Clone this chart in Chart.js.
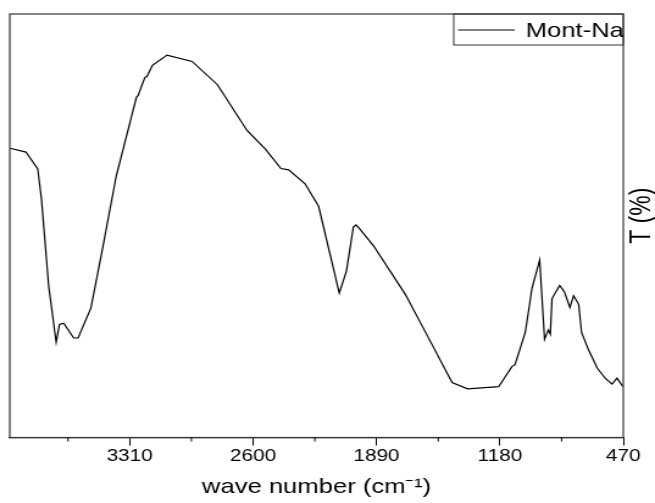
<!DOCTYPE html>
<html>
<head>
<meta charset="utf-8">
<script src="https://cdn.jsdelivr.net/npm/chart.js@4"></script>
<style>
  html, body { margin: 0; padding: 0; background: #fff; overflow: hidden; }
  /* the reference is stretched sideways, so the chart is drawn narrow and scaled */
  #wrap { width: 537px; height: 503px; transform: scaleX(1.2197); transform-origin: 0 0; }
</style>
</head>
<body>
<div id="wrap"><canvas id="ftir"></canvas></div>
<script>
// FTIR spectrum, Mont-Na

const WAVENUMBER = [3998, 3907, 3839, 3818, 3776, 3733, 3714, 3690, 3632, 3607,
  3533, 3469, 3387, 3271, 3262, 3223, 3210, 3179, 3095, 2951,
  2805, 2635, 2529, 2440, 2395, 2301, 2223, 2104, 2063, 2023,
  2008, 1985, 1906, 1724, 1580, 1455, 1366, 1187, 1110, 1093,
  1034, 995, 951, 923, 901, 890, 880, 836, 809, 777,
  756, 727, 710, 670, 620, 574, 535, 506, 472];
const TRANSMITTANCE = [68.3, 67.4, 63.4, 56.5, 35.7, 22.5, 26.7, 27.0, 23.5, 23.5,
  30.6, 44.0, 61.8, 80.4, 80.7, 85.0, 85.3, 87.9, 90.3, 88.8,
  83.3, 72.5, 68.1, 63.5, 63.2, 59.9, 54.6, 34.1, 39.3, 49.7,
  50.2, 49.2, 45.2, 33.8, 22.7, 13.0, 11.5, 12.0, 16.8, 17.2,
  24.8, 35.3, 41.9, 23.2, 25.4, 24.4, 32.8, 35.9, 34.4, 30.7,
  33.5, 31.5, 24.8, 20.7, 16.4, 14.0, 12.6, 14.0, 12.0];

const SERIES_LABEL = 'Mont-Na';
const MAJOR_TICKS = [3310, 2600, 1890, 1180, 470];
const MINOR_TICKS = [3665, 2955, 2245, 1535, 825];
const X_TITLE = 'wave number (cm\u207B\u00B9)';
const Y_TITLE = 'T (%)';

const FONT = "'Liberation Sans', Arial, sans-serif";

// ─────────────────────────────────────────────
// frame, minor ticks, legend box, y title
// ─────────────────────────────────────────────
const decorPlugin = {
  id: 'decor',
  afterDraw(chart) {
    const { ctx, chartArea: a, scales } = chart;
    ctx.save();

    ctx.strokeStyle = '#333';
    ctx.lineWidth = 1.2;
    ctx.strokeRect(a.left, a.top, a.right - a.left, a.bottom - a.top);

    // short minor ticks under the axis
    ctx.strokeStyle = '#000';
    ctx.lineWidth = 1;
    MINOR_TICKS.forEach(v => {
      const x = scales.x.getPixelForValue(v);
      ctx.beginPath();
      ctx.moveTo(x, a.bottom);
      ctx.lineTo(x, a.bottom + 4);
      ctx.stroke();
    });

    // legend
    const boxL = a.right - 139, boxT = a.top, boxW = 139, boxH = 31;
    ctx.strokeStyle = '#333';
    ctx.lineWidth = 1;
    ctx.strokeRect(boxL, boxT, boxW, boxH);
    ctx.strokeStyle = '#000';
    ctx.beginPath();
    ctx.moveTo(boxL + 3.5, boxT + 16);
    ctx.lineTo(boxL + 50, boxT + 16);
    ctx.stroke();
    ctx.fillStyle = '#000';
    ctx.font = '21px ' + FONT;
    ctx.textBaseline = 'alphabetic';
    ctx.textAlign = 'left';
    ctx.fillText(chart.data.datasets[0].label, boxL + 59, boxT + 23);

    // y title on the right, reading upward
    ctx.translate(a.right + 16, (a.top + a.bottom) / 2 - 10);
    ctx.rotate(-Math.PI / 2);
    ctx.textAlign = 'center';
    ctx.textBaseline = 'middle';
    ctx.font = '23px ' + FONT;
    ctx.fillText(Y_TITLE, 0, 0);

    ctx.restore();
  }
};

new Chart(document.getElementById('ftir'), {
  type: 'line',
  data: {
    datasets: [{
      label: SERIES_LABEL,
      data: WAVENUMBER.map((w, i) => ({ x: w, y: TRANSMITTANCE[i] })),
      borderColor: '#000',
      borderWidth: 1.2,
      pointRadius: 0,
      tension: 0,
      fill: false,
    }]
  },
  options: {
    responsive: true,
    maintainAspectRatio: false,
    animation: false,
    layout: { padding: { left: 8, right: 26, top: 14, bottom: 0 } },
    scales: {
      x: {
        type: 'linear',
        reverse: true,
        min: 470,
        max: 4000,
        afterBuildTicks: scale => {
          scale.ticks = MAJOR_TICKS.concat(MINOR_TICKS)
            .sort((p, q) => p - q)
            .map(v => ({ value: v }));
        },
        grid: {
          drawOnChartArea: false,
          drawTicks: true,
          tickLength: 8,
          tickColor: c => MAJOR_TICKS.includes(c.tick && c.tick.value) ? '#000' : 'rgba(0,0,0,0)',
        },
        border: { display: true, color: '#000', width: 1.2 },
        ticks: {
          autoSkip: false,
          maxRotation: 0,
          padding: 2,
          color: '#000',
          font: { family: FONT, size: 17, lineHeight: 1 },
          callback: v => MAJOR_TICKS.includes(v) ? String(v) : '',
        },
        title: {
          display: true,
          text: X_TITLE,
          color: '#000',
          font: { family: FONT, size: 21, lineHeight: 1 },
          padding: { top: 10.5, bottom: 5 },
        }
      },
      y: {
        display: false,
        min: 0,
        max: 100,
      }
    },
    plugins: {
      legend: { display: false },
      tooltip: { enabled: false },
    }
  },
  plugins: [decorPlugin]
});
</script>
</body>
</html>
